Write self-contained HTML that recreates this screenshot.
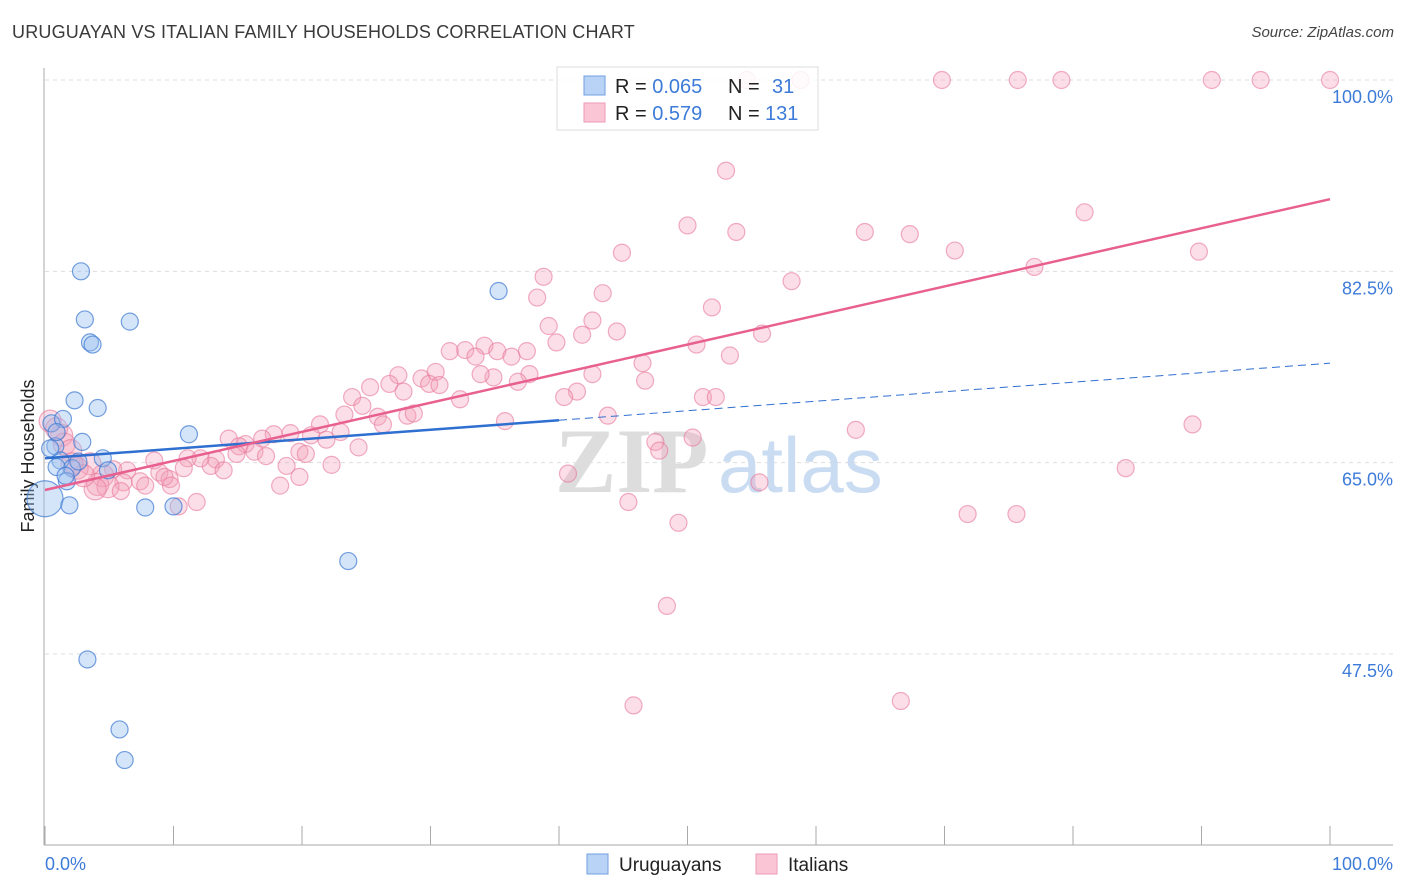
<!DOCTYPE html>
<html><head><meta charset="utf-8"><style>
body{margin:0;background:#fff;font-family:"Liberation Sans",sans-serif;}
#wrap{position:relative;width:1406px;height:892px;overflow:hidden;}
.t{position:absolute;white-space:nowrap;}
</style></head><body>
<div id="wrap">
<div class="t" style="left:12px;top:22px;font-size:18px;color:#3a3a3a;letter-spacing:0.2px">URUGUAYAN VS ITALIAN FAMILY HOUSEHOLDS CORRELATION CHART</div>
<div class="t" style="right:12px;top:24px;font-size:15px;color:#444;font-style:italic">Source: ZipAtlas.com</div>
<svg id="chart" width="1406" height="892" style="position:absolute;left:0;top:0"></svg>
</div>
<script>
const yTicks=[100,82.5,65,47.5];
const yTickLabels=["100.0%","82.5%","65.0%","47.5%"];
const xTickLabels=["0.0%","100.0%"];
const blueX=[0,0.5,0.8,1.4,2.3,2.8,3.1,3.5,3.7,4.1,6.6,2.9,1.2,2.1,2.6,4.5,1.7,1.9,4.9,7.8,10.0,11.2,35.3,23.6,3.3,5.8,6.2,0.9,1.6,0.9,0.4];
const blueY=[61.7,68.6,66.5,69.0,70.7,82.5,78.1,76.0,75.8,70.0,77.9,66.9,65.2,64.5,65.1,65.4,63.3,61.1,64.3,60.9,61.0,67.6,80.7,56.0,47.0,40.6,37.8,64.6,63.8,67.8,66.3];
const pinkX=[54.6,58.8,69.8,75.7,79.1,90.8,94.6,100,53.0,50.0,53.8,63.8,67.3,70.8,44.9,80.9,89.8,77.0,58.1,38.8,38.3,43.4,51.9,42.6,39.2,44.5,41.8,39.8,55.8,50.7,53.3,46.5,46.7,51.2,52.2,42.6,41.4,40.4,43.8,35.8,34.2,31.5,32.7,35.2,37.5,36.3,33.5,37.7,36.8,34.9,33.9,30.4,29.3,27.5,26.8,27.9,29.9,30.7,32.3,25.3,23.9,24.7,23.3,25.9,26.3,28.2,28.7,21.4,20.7,19.1,21.9,23.0,24.4,17.8,16.9,14.3,15.6,15.1,16.3,17.2,14.9,19.8,20.3,22.3,18.8,19.8,18.3,13.3,12.9,12.1,11.1,10.8,13.9,8.5,8.9,9.7,9.3,7.4,7.8,6.4,6.1,5.3,4.5,4.1,4.9,3.9,5.9,3.5,2.5,3.0,1.3,0.4,0.9,1.5,2.0,2.1,9.8,11.8,10.4,45.4,49.3,40.7,55.6,47.5,47.8,50.4,63.1,71.8,75.6,84.1,89.3,48.4,45.8,66.6];
const pinkY=[100,100,100,100,100,100,100,100,91.7,86.7,86.1,86.1,85.9,84.4,84.2,87.9,84.3,82.9,81.6,82.0,80.1,80.5,79.2,78.0,77.5,77.0,76.7,76.0,76.8,75.8,74.8,74.1,72.5,71.0,71.0,73.1,71.5,71.0,69.3,68.8,75.7,75.2,75.3,75.2,75.2,74.7,74.7,73.1,72.4,72.8,73.1,73.3,72.7,73.0,72.2,71.5,72.2,72.1,70.8,71.9,71.0,70.2,69.4,69.2,68.5,69.3,69.5,68.5,67.5,67.7,67.1,67.8,66.4,67.6,67.2,67.2,66.7,66.5,66.0,65.6,65.8,66.0,65.8,64.8,64.7,63.7,62.9,65.3,64.7,65.4,65.4,64.5,64.3,65.2,64.1,63.5,63.7,63.3,62.9,64.3,63.2,64.4,63.8,63.0,62.8,62.6,62.4,64.9,64.5,63.8,67.5,68.8,68.1,66.7,66.1,64.9,62.9,61.4,61.0,61.4,59.5,64.0,63.2,66.9,66.1,67.3,68.0,60.3,60.3,64.5,68.5,51.9,42.8,43.2];
const blueTrend=[65.4,8.7]; // intercept, slope per 100%
const pinkTrend=[62.5,26.6];
const blueSolidEnd=40;

const X0=45,X1=1330,YT=80,YB=654;
const xs=v=>X0+(X1-X0)*v/100;
const ys=v=>YT+(100-v)*(YB-YT)/52.5;
const svg=document.getElementById('chart');
const NS='http://www.w3.org/2000/svg';
function mk(tag,attrs,parent){const e=document.createElementNS(NS,tag);for(const k in attrs)e.setAttribute(k,attrs[k]);(parent||svg).appendChild(e);return e;}

// grid
yTicks.forEach((v,i)=>{
  const g=mk('line',{x1:45,x2:1393,y1:ys(v),y2:ys(v),stroke:'#ddd','stroke-dasharray':'4,4'});
  
  
  const t=mk('text',{x:1393,y:ys(v)+23,'text-anchor':'end','font-size':18,fill:'#3d7bd9','font-family':'Liberation Sans, sans-serif'});
  t.textContent=yTickLabels[i];
  
  
});
// axes
const ax=mk('line',{x1:44,x2:44,y1:68,y2:845,stroke:'#aaa'});


const bx=mk('line',{x1:44,x2:1393,y1:845,y2:845,stroke:'#aaa'});


for(let i=0;i<=10;i++){
  const tk=mk('line',{x1:xs(i*10),x2:xs(i*10),y1:826,y2:845,stroke:'#aaa'});
  
  
}
[[0,'start'],[100,'end']].forEach((p,i)=>{
  const t=mk('text',{x:i?1393:45,y:870,'text-anchor':p[1],'font-size':18,fill:'#3d7bd9','font-family':'Liberation Sans, sans-serif'});
  t.textContent=xTickLabels[i];
  
  
});
const yl=mk('text',{x:0,y:0,transform:'translate(34,456) rotate(-90)','text-anchor':'middle','font-size':18,fill:'#222','font-family':'Liberation Sans, sans-serif'});
yl.textContent='Family Households';


// watermark
const wm=mk('text',{x:555,y:492,'font-size':92,fill:'#ddd','font-family':'Liberation Serif, serif','font-weight':'bold'});
wm.textContent='ZIP';


const wm2=mk('text',{x:718,y:492,'font-size':78,fill:'#c9dcf2','font-family':'Liberation Sans, sans-serif'});
wm2.textContent='atlas';



// points
pinkX.forEach((x,i)=>{
  const c=mk('circle',{cx:xs(x),cy:ys(pinkY[i]),r:(x<5?11:8.5),fill:'rgba(244,160,185,0.35)',stroke:'rgba(232,120,155,0.6)','stroke-width':1.2});
  
  
});
blueX.forEach((x,i)=>{
  const c=mk('circle',{cx:xs(x),cy:ys(blueY[i]),r:(i===0?18:8.5),fill:'rgba(150,190,240,0.4)',stroke:'rgba(60,120,210,0.7)','stroke-width':1.2});
  
  
});
// trends
const bt=v=>blueTrend[0]+blueTrend[1]*v/100, pt=v=>pinkTrend[0]+pinkTrend[1]*v/100;
const l1=mk('line',{x1:xs(0),y1:ys(bt(0)),x2:xs(blueSolidEnd),y2:ys(bt(blueSolidEnd)),stroke:'#2f6fd0','stroke-width':2.5});


const l2=mk('line',{x1:xs(blueSolidEnd),y1:ys(bt(blueSolidEnd)),x2:xs(100),y2:ys(bt(100)),stroke:'#2f6fd0','stroke-width':1,'stroke-dasharray':'8,5'});


const l3=mk('line',{x1:xs(0),y1:ys(pt(0)),x2:xs(100),y2:ys(pt(100)),stroke:'#e8608f','stroke-width':2.5});



// legend box
const lg=mk('g',{});


mk('rect',{x:557,y:67,width:261,height:63,fill:'rgba(255,255,255,0.85)',stroke:'#ddd'},lg);
mk('rect',{x:584,y:76,width:21,height:19,fill:'#b8d3f5',stroke:'#6f9fe0'},lg);
mk('rect',{x:584,y:103,width:21,height:19,fill:'#fac6d6',stroke:'#ee9ab5'},lg);
[['R = ',' 0.065','N = ','  31',93],['R = ',' 0.579','N = ','131',120]].forEach(r=>{
  const t=mk('text',{x:615,y:r[4],'font-size':20,fill:'#222','font-family':'Liberation Sans, sans-serif','xml:space':'preserve'},lg);
  t.innerHTML='R = <tspan fill="#3d7bd9">'+r[1].trim()+'</tspan>';
  t.setAttribute('x',615);
  const t2=mk('text',{x:728,y:r[4],'font-size':20,fill:'#222','font-family':'Liberation Sans, sans-serif'},lg);
  t2.innerHTML='N = <tspan fill="#3d7bd9" x="'+(r[3].trim().length==2?772:765)+'">'+r[3].trim()+'</tspan>';
});
// bottom legend
const bl=mk('g',{});


mk('rect',{x:587,y:854,width:21,height:20,fill:'#b8d3f5',stroke:'#6f9fe0'},bl);
const u=mk('text',{x:619,y:871,'font-size':19,fill:'#222','font-family':'Liberation Sans, sans-serif'},bl);
u.textContent='Uruguayans';
mk('rect',{x:756,y:854,width:21,height:20,fill:'#fac6d6',stroke:'#ee9ab5'},bl);
const it=mk('text',{x:788,y:871,'font-size':19,fill:'#222','font-family':'Liberation Sans, sans-serif'},bl);
it.textContent='Italians';
</script>
</body></html>
